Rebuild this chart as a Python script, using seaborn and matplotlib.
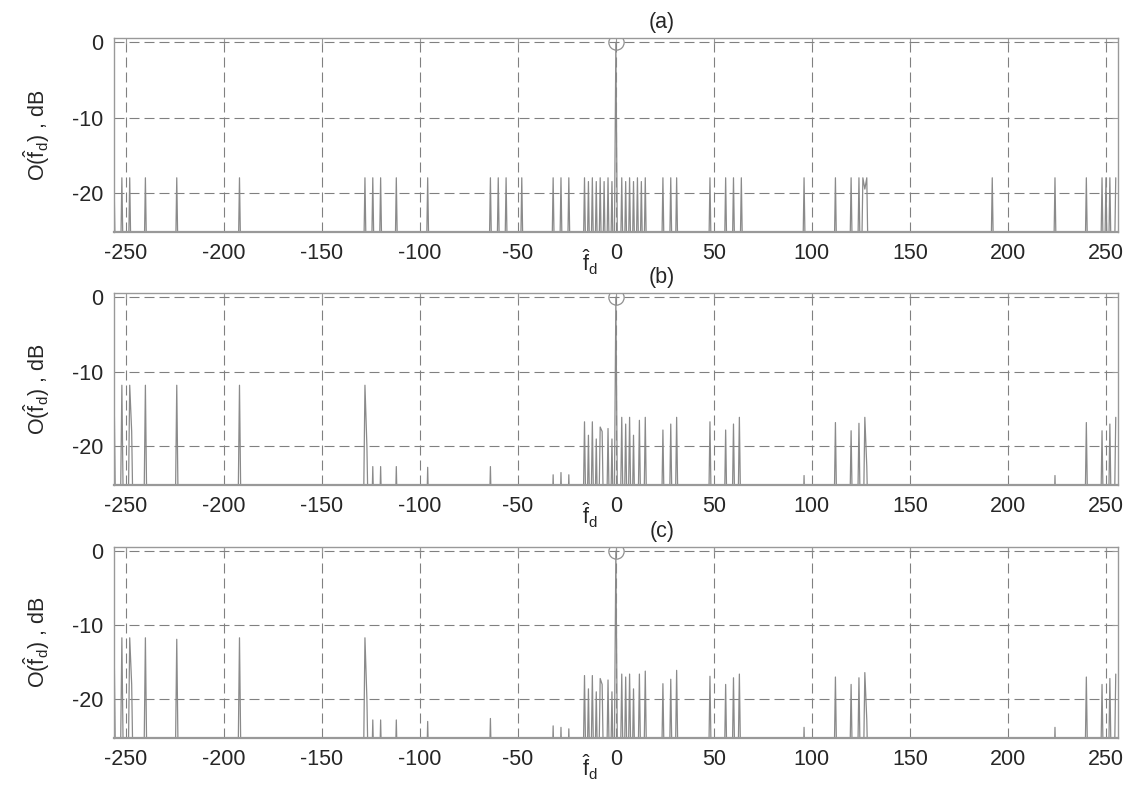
import numpy as np
import pandas as pd
import seaborn as sns
import matplotlib.pyplot as plt

sns.set_style("white")
plt.rcParams['font.family'] = ['Liberation Sans', 'DejaVu Sans']
plt.rcParams['mathtext.fontset'] = 'custom'
plt.rcParams['mathtext.rm'] = 'Liberation Sans'
plt.rcParams['mathtext.it'] = 'Liberation Sans'
plt.rcParams['axes.unicode_minus'] = False

# frequency bins and the level of bins that fall below the plotted range
f_bins = np.arange(-256, 256)
floor_db = -35.0

# (a) sidelobe positions and levels, dB
pos_a = [-256, -252, -248, -240, -224, -192, -128, -124, -120, -112, -96,
         -64, -60, -56, -48, -32, -28, -24, -16, -14, -12, -10, -8, -6, -4, -2, 0,
         3, 5, 7, 9, 11, 13, 15, 24, 28, 31, 48, 56, 60, 64, 96, 112, 120, 124, 126, 127, 128,
         192, 224, 240, 248, 250, 252, 255]
lvl_a = [-18, -18, -18, -18, -18, -18, -18, -18, -18, -18, -18,
         -18, -18, -18, -18, -18, -18, -18, -18, -18.5, -18, -18.5, -18, -18.5, -18, -18.5, 0,
         -18, -18.5, -18, -18.5, -18, -18.5, -18, -18, -18, -18, -18, -18, -18, -18, -18,
         -18, -18, -18, -18, -19.5, -18,
         -18, -18, -18, -18, -18, -18, -18]

# (b)
pos_b = [-256, -252, -248, -247, -240, -224, -192, -128, -127, -124, -120, -112, -96,
         -64, -32, -28, -24, -16, -14, -12, -10, -8, -7, -4, -2, 0,
         3, 5, 7, 9, 12, 15, 24, 28, 31, 48, 56, 60, 63, 96, 112, 120, 124, 127, 128,
         224, 240, 248, 252, 255]
lvl_b = [-11.8, -11.8, -11.8, -18, -11.8, -11.8, -11.8, -11.8, -20, -22.7, -22.7, -22.7, -22.8,
         -22.7, -23.8, -23.5, -23.8, -16.7, -18.5, -16.7, -19, -17.4, -18, -17.6, -19, 0,
         -16.1, -17, -16.1, -18.5, -16.5, -16.1, -17.8, -17, -16.1, -16.7, -17.8, -17, -16.1, -23.9,
         -16.8, -17.9, -16.9, -16.1, -22.7,
         -23.9, -16.8, -17.9, -17, -16.1]

# (c)
pos_c = [-256, -252, -248, -247, -240, -224, -192, -128, -127, -124, -120, -112, -96,
         -64, -32, -28, -24, -16, -14, -12, -10, -8, -7, -4, -2, 0,
         3, 5, 7, 9, 12, 15, 24, 28, 31, 48, 56, 60, 63, 96, 112, 120, 124, 127, 128,
         224, 240, 248, 252, 255]
lvl_c = [-11.7, -11.7, -11.7, -18, -11.7, -11.9, -11.7, -11.7, -20, -22.8, -22.8, -22.8, -23,
         -22.6, -23.6, -23.8, -24, -16.8, -18.6, -16.8, -19, -17.2, -18, -17.4, -19, 0,
         -16.6, -17, -16.6, -18.6, -16.6, -16.2, -17.9, -17.3, -16.1, -16.9, -18, -17.1, -16.6, -23.8,
         -17.0, -18.0, -17.1, -16.4, -22.8,
         -23.8, -17.0, -18.0, -17.2, -16.6]

panels = [("(a)", pos_a, lvl_a), ("(b)", pos_b, lvl_b), ("(c)", pos_c, lvl_c)]
axes_rect = [[0.101, 0.706, 0.889, 0.246],
             [0.101, 0.385, 0.889, 0.244],
             [0.101, 0.065, 0.889, 0.242]]

line_col = "#8a8a8a"
grid_col = "#808080"

fig = plt.figure(figsize=(11.29, 7.89), dpi=100)
for (title, pos, lvl), rect in zip(panels, axes_rect):
    ax = fig.add_axes(rect)
    spec = pd.Series(floor_db, index=f_bins)
    spec.loc[pos] = lvl
    df = pd.DataFrame({"f": f_bins, "O": spec.values})
    sns.lineplot(data=df, x="f", y="O", ax=ax, color=line_col, linewidth=0.9,
                 estimator=None, sort=False)
    ax.plot([0], [0], marker="o", markersize=11, markerfacecolor="none",
            markeredgecolor="#909090", markeredgewidth=0.9)
    ax.set_xlim(-256, 256)
    ax.set_ylim(-25.2, 0.6)
    ax.set_xticks(np.arange(-250, 251, 50))
    ax.set_yticks([-20, -10, 0])
    ax.grid(True, linestyle=(0, (9, 4.5)), color=grid_col, linewidth=0.8)
    for s in ax.spines.values():
        s.set_color("#999999")
        s.set_linewidth(1.0)
    ax.spines["bottom"].set_linewidth(1.6)
    ax.tick_params(axis="both", direction="in", length=4, color="#999999",
                   labelsize=15.5, pad=8, top=True, right=True)
    ax.set_xlabel("")
    ax.set_ylabel(r"O($\hat{\mathregular{f}}_{\mathregular{d}}$) , dB", fontsize=15.5, labelpad=14)
    ax.text(0.546, 1.08, title, transform=ax.transAxes, ha="center", va="center", fontsize=15.5)
    ax.text(0.474, -0.155, r"$\hat{\mathregular{f}}_{\mathregular{d}}$", transform=ax.transAxes,
            ha="center", va="center", fontsize=15.5)

fig.savefig("out.png", dpi=100)
